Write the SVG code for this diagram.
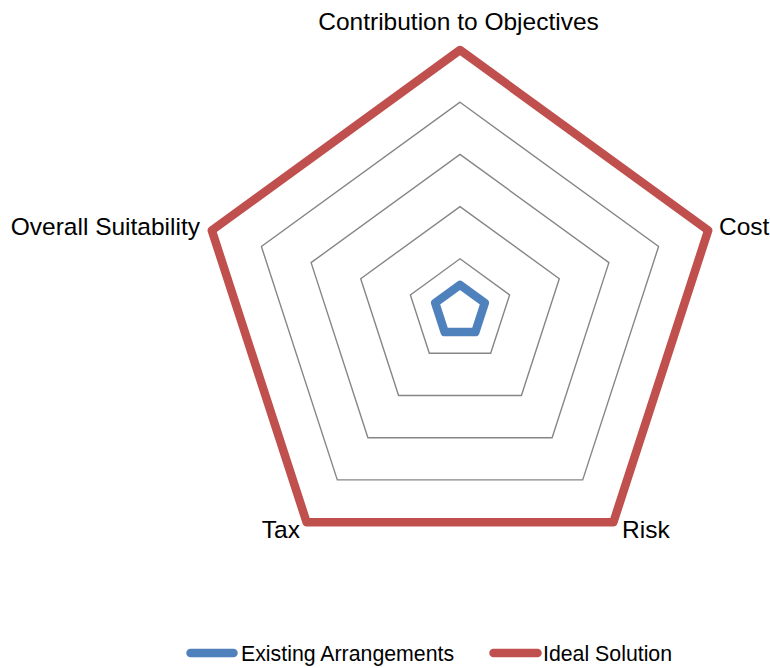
<svg xmlns="http://www.w3.org/2000/svg" width="770" height="668" viewBox="0 0 770 668">
<style>
.grid{fill:none;stroke:#868686;stroke-width:1.4}
.ideal{fill:none;stroke:#C0504D;stroke-width:8.5;stroke-linejoin:round}
.exist{fill:none;stroke:#4F81BD;stroke-width:8.5;stroke-linejoin:round}
.lbl{font-family:"Liberation Sans",Arial,sans-serif;font-size:24.5px;fill:#000}
.leg{font-family:"Liberation Sans",Arial,sans-serif;font-size:21.3px;fill:#000}
</style>
<rect width="770" height="668" fill="#fff"/>
<g id="grid">
<polygon class="grid" points="460,258.8 509.6,294.9 490.7,353.2 429.3,353.2 410.4,294.9"/>
<polygon class="grid" points="460,206.6 559.3,278.7 521.4,395.5 398.6,395.5 360.7,278.7"/>
<polygon class="grid" points="460,154.4 608.9,262.6 552.1,437.7 367.9,437.7 311.1,262.6"/>
<polygon class="grid" points="460,102.2 658.6,246.5 582.7,479.9 337.3,479.9 261.4,246.5"/>
<polygon class="grid" points="460,50 708.2,230.4 613.4,522.2 306.6,522.2 211.8,230.4"/>
</g>
<g id="series">
<polygon id="ideal-solution" class="ideal" points="460,50 708.2,230.4 613.4,522.2 306.6,522.2 211.8,230.4"/>
<polygon id="existing-arrangements" class="exist" points="460,284.9 484.8,302.9 475.3,332.1 444.7,332.1 435.2,302.9"/>
</g>
<g id="axis-labels">
<text class="lbl" x="458.5" y="30" text-anchor="middle">Contribution to Objectives</text>
<text class="lbl" x="719" y="235">Cost</text>
<text class="lbl" x="622" y="538">Risk</text>
<text class="lbl" x="300" y="538" text-anchor="end">Tax</text>
<text class="lbl" x="200" y="235" text-anchor="end">Overall Suitability</text>
</g>
<g id="legend">
<line x1="190.5" y1="653" x2="233.5" y2="653" stroke="#4F81BD" stroke-width="8.5" stroke-linecap="round"/>
<text class="leg" x="241" y="661">Existing Arrangements</text>
<line x1="493.5" y1="653" x2="537.5" y2="653" stroke="#C0504D" stroke-width="8.5" stroke-linecap="round"/>
<text class="leg" x="543" y="661">Ideal Solution</text>
</g>
</svg>
